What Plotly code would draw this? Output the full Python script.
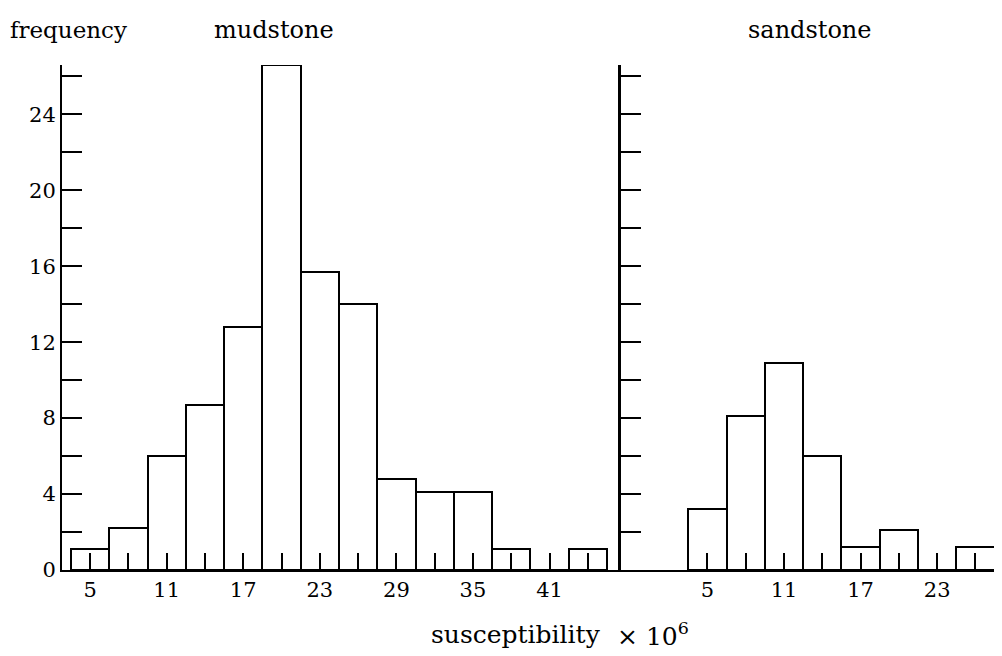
import plotly.graph_objects as go

# ---- data ----
mud_centers = [5, 8, 11, 14, 17, 20, 23, 26, 29, 32, 35, 38, 41, 44]
mud_freq = [1.1, 2.2, 6.0, 8.7, 12.8, 26.6, 15.7, 14.0, 4.8, 4.1, 4.1, 1.1, 0, 1.1]
sand_centers = [5, 8, 11, 14, 17, 20, 23, 26]
sand_freq = [3.2, 8.1, 10.9, 6.0, 1.2, 2.1, 0, 1.2]
bin_width = 3

mud_major_ticks = [5, 11, 17, 23, 29, 35, 41]
mud_minor_ticks = [8, 14, 20, 26, 32, 38, 44]
sand_major_ticks = [5, 11, 17, 23]
sand_minor_ticks = [8, 14, 20, 26]
y_major_ticks = [0, 4, 8, 12, 16, 20, 24]
y_minor_ticks = [2, 6, 10, 14, 18, 22, 26]

FONT = "DejaVu Serif"
OFF = 8                     # page body margin
W, H = 1002 - OFF, 656 - OFF

def fx(px):
    return (px - OFF) / W

def fy(py):
    return (H - (py - OFF)) / H

fig = go.Figure()
fig.add_trace(go.Bar(x=mud_centers, y=mud_freq, width=bin_width,
                     marker=dict(color="white", line=dict(color="black", width=2)),
                     xaxis="x", yaxis="y", showlegend=False))
fig.add_trace(go.Bar(x=sand_centers, y=sand_freq, width=bin_width,
                     marker=dict(color="white", line=dict(color="black", width=2)),
                     xaxis="x2", yaxis="y2", showlegend=False))

common_x = dict(showgrid=False, zeroline=False, showline=True, linecolor="black",
                linewidth=2, ticks="inside", ticklen=17, tickwidth=1.5, tickcolor="black",
                tickfont=dict(family=FONT, size=21, color="black"), fixedrange=True,
                automargin=False, tickmode="array")
common_y = dict(showgrid=False, zeroline=False, showline=True, linecolor="black",
                ticks="inside", ticklen=20, tickwidth=1.5, tickcolor="black",
                range=[0, 26.6], tickmode="array", tickvals=y_major_ticks,
                ticktext=[str(v) for v in y_major_ticks],
                minor=dict(tickmode="array", tickvals=y_minor_ticks, ticks="inside",
                           ticklen=20, tickwidth=1.5, tickcolor="black", showgrid=False),
                tickfont=dict(family=FONT, size=21, color="black"), fixedrange=True,
                automargin=False)

fig.update_layout(
    width=W, height=H,
    margin=dict(l=0, r=0, t=0, b=0),
    paper_bgcolor="white", plot_bgcolor="white",
    bargap=0,
    xaxis=dict(domain=[fx(62), fx(621)], range=[2.8, 46.6], anchor="y",
               tickvals=mud_major_ticks, ticktext=[str(v) for v in mud_major_ticks],
               minor=dict(tickmode="array", tickvals=mud_minor_ticks, ticks="inside",
                          ticklen=17, tickwidth=1.5, tickcolor="black", showgrid=False),
               **common_x),
    xaxis2=dict(domain=[fx(621), fx(1001)], range=[-1.77, 28.0], anchor="y2",
                tickvals=sand_major_ticks, ticktext=[str(v) for v in sand_major_ticks],
                minor=dict(tickmode="array", tickvals=sand_minor_ticks, ticks="inside",
                           ticklen=17, tickwidth=1.5, tickcolor="black", showgrid=False),
                **common_x),
    yaxis=dict(domain=[fy(570), fy(65)], anchor="x", linewidth=2, **common_y),
    yaxis2=dict(domain=[fy(570), fy(65)], anchor="x2", linewidth=3,
                showticklabels=False, **common_y),
    font=dict(family=FONT, color="black"),
    annotations=[
        dict(text="frequency", x=fx(8), y=fy(30), xref="paper", yref="paper",
             xanchor="left", yanchor="middle", showarrow=False,
             font=dict(family=FONT, size=23, color="black")),
        dict(text="mudstone", x=fx(274), y=fy(30), xref="paper", yref="paper",
             xanchor="center", yanchor="middle", showarrow=False,
             font=dict(family=FONT, size=24, color="black")),
        dict(text="sandstone", x=fx(810), y=fy(30), xref="paper", yref="paper",
             xanchor="center", yanchor="middle", showarrow=False,
             font=dict(family=FONT, size=24, color="black")),
        dict(text="susceptibility", x=fx(603), y=fy(634), xref="paper", yref="paper",
             xanchor="right", yanchor="middle", showarrow=False,
             font=dict(family=FONT, size=25, color="black")),
        dict(text="× 10<sup>6</sup>", x=fx(615), y=fy(634), xref="paper", yref="paper",
             xanchor="left", yanchor="middle", showarrow=False,
             font=dict(family=FONT, size=25, color="black")),
    ],
)

fig.write_html("out.html")
